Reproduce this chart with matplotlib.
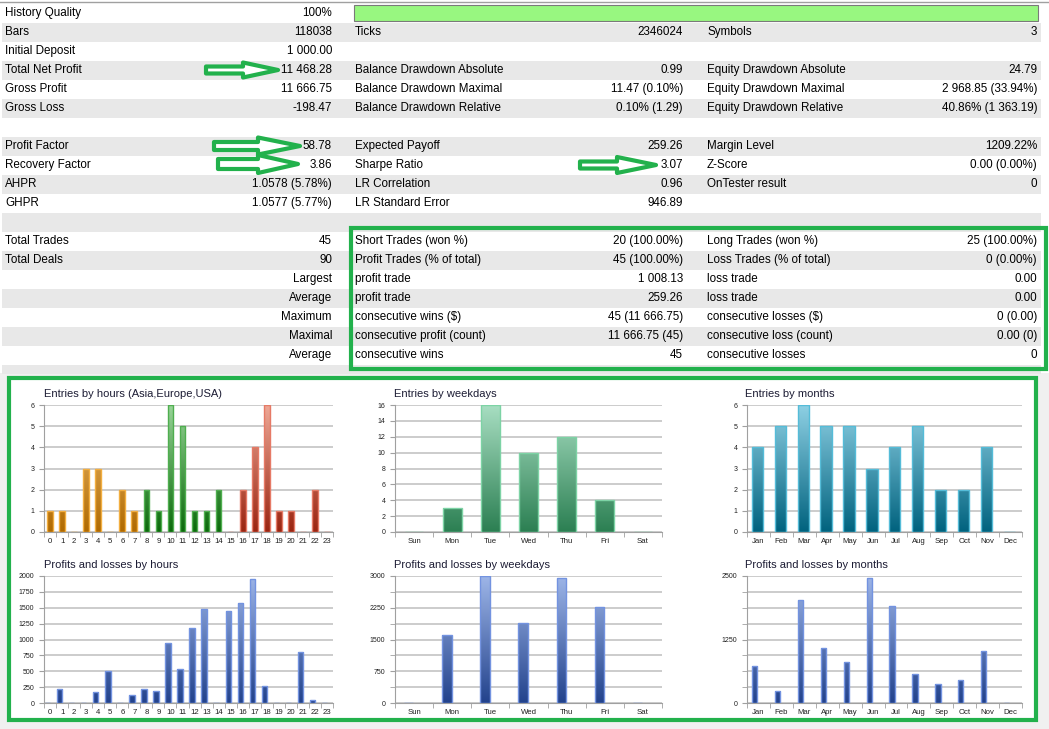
import numpy as np
import matplotlib
matplotlib.use("Agg")
import matplotlib.pyplot as plt
from matplotlib.colors import LinearSegmentedColormap
from matplotlib.patches import Rectangle, Polygon

plt.rcParams['font.family'] = ['Liberation Sans', 'DejaVu Sans']

W, H = 1049, 729

# ---- report table (one entry per row, "" = empty cell) ----
col1_labels = ["History Quality", "Bars", "Initial Deposit", "Total Net Profit", "Gross Profit", "Gross Loss", "",
               "Profit Factor", "Recovery Factor", "AHPR", "GHPR", "",
               "Total Trades", "Total Deals", "", "", "", "", "", ""]
col1_values = ["100%", "118038", "1 000.00", "11 468.28", "11 666.75", "-198.47", "",
               "58.78", "3.86", "1.0578 (5.78%)", "1.0577 (5.77%)", "",
               "45", "90", "Largest", "Average", "Maximum", "Maximal", "Average", ""]
col2_labels = ["", "Ticks", "", "Balance Drawdown Absolute", "Balance Drawdown Maximal", "Balance Drawdown Relative", "",
               "Expected Payoff", "Sharpe Ratio", "LR Correlation", "LR Standard Error", "",
               "Short Trades (won %)", "Profit Trades (% of total)", "profit trade", "profit trade",
               "consecutive wins ($)", "consecutive profit (count)", "consecutive wins", ""]
col2_values = ["", "2346024", "", "0.99", "11.47 (0.10%)", "0.10% (1.29)", "",
               "259.26", "3.07", "0.96", "946.89", "",
               "20 (100.00%)", "45 (100.00%)", "1 008.13", "259.26", "45 (11 666.75)", "11 666.75 (45)", "45", ""]
col3_labels = ["", "Symbols", "", "Equity Drawdown Absolute", "Equity Drawdown Maximal", "Equity Drawdown Relative", "",
               "Margin Level", "Z-Score", "OnTester result", "", "",
               "Long Trades (won %)", "Loss Trades (% of total)", "loss trade", "loss trade",
               "consecutive losses ($)", "consecutive loss (count)", "consecutive losses", ""]
col3_values = ["", "3", "", "24.79", "2 968.85 (33.94%)", "40.86% (1 363.19)", "",
               "1209.22%", "0.00 (0.00%)", "0", "", "",
               "25 (100.00%)", "0 (0.00%)", "0.00", "0.00", "0 (0.00)", "0.00 (0)", "0", ""]
history_quality = 100

# ---- chart data ----
hours = [str(h) for h in range(24)]
entries_hours = [1, 1, 0, 3, 3, 0, 2, 1, 2, 1, 6, 5, 1, 1, 2, 0, 2, 4, 6, 1, 1, 0, 2, 0]
hour_session = ["asia"] * 8 + ["europe"] * 7 + ["usa"] * 9
profit_hours = [0, 220, 0, 0, 173, 497, 0, 126, 220, 194, 942, 539,
                1183, 1487, 0, 1445, 1571, 1958, 267, 0, 0, 801, 42, 0]
weekdays = ["Sun", "Mon", "Tue", "Wed", "Thu", "Fri", "Sat"]
entries_weekdays = [0, 3, 16, 10, 12, 4, 0]
profit_weekdays = [0, 1611, 2990, 1879, 2945, 2258, 0]
months = ["Jan", "Feb", "Mar", "Apr", "May", "Jun", "Jul", "Aug", "Sep", "Oct", "Nov", "Dec"]
entries_months = [4, 5, 6, 5, 5, 3, 4, 5, 2, 2, 4, 0]
profit_months = [724, 230, 2026, 1079, 809, 2467, 1908, 566, 368, 461, 1026, 0]

GREEN = '#22b14c'
GREY_ROW = '#e8e8e8'
FS = 8.4


def cmap(bottom, top):
    return LinearSegmentedColormap.from_list('g', [bottom, top])


cm_session = {"asia": cmap('#b06a00', '#f2c27a'),
              "europe": cmap('#0a6a0a', '#98d498'),
              "usa": cmap('#9a2410', '#eea896')}
edge_session = {"asia": '#f2ae40', "europe": '#4fae4f', "usa": '#e67a66'}
cm_week = cmap('#2b7f52', '#a8dec2')
cm_month = cmap('#00627e', '#8ed0e4')
cm_profit = cmap('#22428c', '#9eb6e8')


def gradient_bars(ax, x, heights, width, ymax, cmaps, edges):
    bars = ax.bar(x, heights, width, color='none', edgecolor=edges, linewidth=1, zorder=3)
    grad = np.linspace(0, 1, 256).reshape(-1, 1)
    for bar, cm in zip(bars, cmaps):
        if bar.get_height() <= 0:
            continue
        x0 = bar.get_x()
        im = ax.imshow(grad, extent=[x0, x0 + bar.get_width(), 0, ymax], origin='lower',
                       aspect='auto', cmap=cm, zorder=2, interpolation='bilinear')
        im.set_clip_path(bar)
    return bars


def style_chart(ax, labels, ymax, major, minor):
    n = len(labels)
    ax.set_xlim(-0.5, n - 0.5)
    ax.set_ylim(0, ymax)
    ax.set_xticks(range(n))
    ax.set_xticklabels(labels)
    ax.set_xticks(np.arange(n + 1) - 0.5, minor=True)
    ax.tick_params(axis='x', which='major', length=0, pad=4.5, labelsize=5.6, labelcolor='#202020')
    ax.tick_params(axis='x', which='minor', length=3.5, color='#a0a0a0')
    ax.set_yticks(np.arange(0, ymax + 1, major))
    ax.set_yticks(np.arange(0, ymax + 0.1, minor), minor=True)
    ax.tick_params(axis='y', which='both', length=3.5, color='#a0a0a0', labelsize=5,
                   pad=3.5, labelcolor='#202020')
    ax.set_axisbelow(True)
    ax.grid(axis='y', which='both', color='#c8c8c8', lw=1.3)
    for s in ['top', 'right']:
        ax.spines[s].set_visible(False)
    for s in ['left', 'bottom']:
        ax.spines[s].set_color('#a0a0a0')


def px_axes(fig, x0, y0, x1, y1):
    return fig.add_axes([x0 / W, 1 - y1 / H, (x1 - x0) / W, (y1 - y0) / H])


def arrow(ax, x0, x1, cy, sh, hh, hx):
    pts = [(x0, cy - sh), (hx, cy - sh), (hx, cy - hh), (x1, cy),
           (hx, cy + hh), (hx, cy + sh), (x0, cy + sh)]
    ax.add_patch(Polygon(pts, closed=True, fc='white', ec=GREEN, lw=3, joinstyle='round', zorder=5))


fig = plt.figure(figsize=(W / 100, H / 100), dpi=100)
bg = fig.add_axes([0, 0, 1, 1])
bg.set_xlim(0, W)
bg.set_ylim(H, 0)
bg.axis('off')

# table backgrounds
bg.plot([0, W], [2, 2], color='#a0a0a0', lw=1)
bg.add_patch(Rectangle((0, 373), W, H - 373, fc='#f0f0f0', ec='none'))
for i in range(20):
    cy = 13 + 19 * i
    if i % 2 == 1:
        h = 19 if i < 19 else 9
        bg.add_patch(Rectangle((2, cy - 9.5), 1039, h, fc=GREY_ROW, ec='none'))
    bg.text(5, cy, col1_labels[i], ha='left', va='center', fontsize=FS)
    bg.text(332, cy, col1_values[i], ha='right', va='center', fontsize=FS)
    bg.text(355, cy, col2_labels[i], ha='left', va='center', fontsize=FS)
    bg.text(683, cy, col2_values[i], ha='right', va='center', fontsize=FS)
    bg.text(707, cy, col3_labels[i], ha='left', va='center', fontsize=FS)
    bg.text(1037, cy, col3_values[i], ha='right', va='center', fontsize=FS)

bg.add_patch(Rectangle((354, 5), 684 * history_quality / 100, 16, fc='#98f780', ec='#7a7a7a', lw=0.8))

# annotation arrows
arrow(bg, 206, 278, 70, 3.5, 7.5, 243)
arrow(bg, 214, 300, 146, 4, 8.5, 258)
arrow(bg, 218, 298, 164, 5, 9, 258)
arrow(bg, 580, 656, 165, 3.5, 8, 617)

# green boxes
bg.add_patch(Rectangle((9, 378), 1027, 342, fc='white', ec=GREEN, lw=3, zorder=4))
bg.add_patch(Rectangle((351, 228), 695, 141, fc='none', ec=GREEN, lw=3, zorder=4))

# chart titles
titles = [(44, 394, "Entries by hours (Asia,Europe,USA)"), (44, 565, "Profits and losses by hours"),
          (394, 394, "Entries by weekdays"), (394, 565, "Profits and losses by weekdays"),
          (745, 394, "Entries by months"), (745, 565, "Profits and losses by months")]
for tx, ty, t in titles:
    bg.text(tx, ty, t, ha='left', va='center', fontsize=8, color='#1c1c34', zorder=6)

# entries by hours
ax = px_axes(fig, 44, 405, 333, 532)
gradient_bars(ax, np.arange(24), entries_hours, 0.47, 6,
              [cm_session[s] for s in hour_session], [edge_session[s] for s in hour_session])
style_chart(ax, hours, 6, 1, 1)

# profits by hours
ax = px_axes(fig, 44, 576, 333, 703)
gradient_bars(ax, np.arange(24) - 0.2, profit_hours, 0.45, 2000, [cm_profit] * 24, '#7393e0')
style_chart(ax, hours, 2000, 250, 250)

# entries by weekdays
ax = px_axes(fig, 395, 405, 662, 532)
gradient_bars(ax, np.arange(7), entries_weekdays, 0.49, 16, [cm_week] * 7, '#7dd3a5')
style_chart(ax, weekdays, 16, 2, 2)

# profits by weekdays
ax = px_axes(fig, 395, 576, 662, 703)
gradient_bars(ax, np.arange(7) - 0.14, profit_weekdays, 0.25, 3000, [cm_profit] * 7, '#7393e0')
style_chart(ax, weekdays, 3000, 750, 375)

# entries by months
ax = px_axes(fig, 747, 405, 1022, 532)
gradient_bars(ax, np.arange(12) - 0.05, entries_months, 0.49, 6, [cm_month] * 12, '#55bcd8')
style_chart(ax, months, 6, 1, 1)

# profits by months
ax = px_axes(fig, 747, 576, 1022, 703)
gradient_bars(ax, np.arange(12) - 0.17, profit_months, 0.23, 2500, [cm_profit] * 12, '#7393e0')
style_chart(ax, months, 2500, 1250, 312.5)

fig.savefig("out.png", dpi=100)
